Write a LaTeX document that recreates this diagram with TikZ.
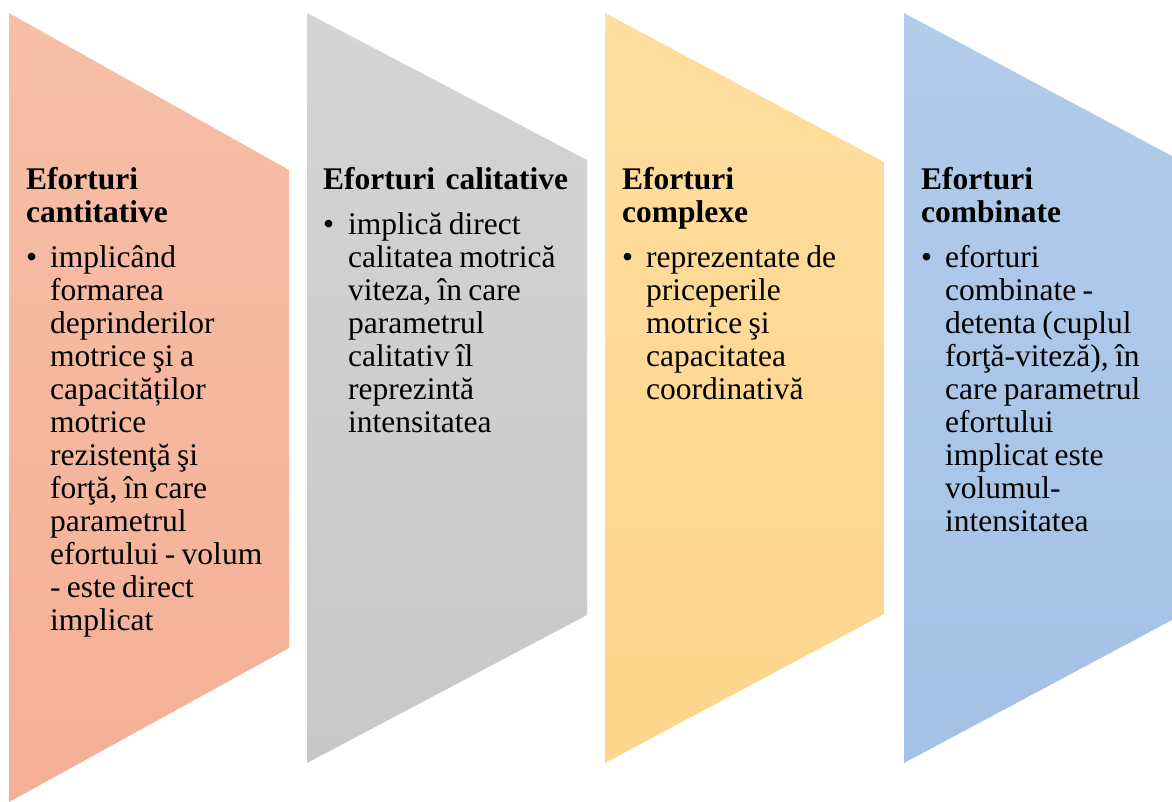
\documentclass[tikz,border=0pt]{standalone}
\usepackage{fontspec}
\setmainfont{Liberation Serif}
\definecolor{orA}{RGB}{246,191,166}
\definecolor{orB}{RGB}{244,176,150}
\definecolor{grA}{RGB}{212,212,212}
\definecolor{grB}{RGB}{200,200,200}
\definecolor{yeA}{RGB}{254,221,157}
\definecolor{yeB}{RGB}{253,213,140}
\definecolor{blA}{RGB}{178,204,233}
\definecolor{blB}{RGB}{164,193,230}
\newcommand\tightsp{\spaceskip=0.2em plus 0.05em minus 0.02em\relax}
\begin{document}
\begin{tikzpicture}[x=1pt,y=-1pt,
  txt/.style={inner sep=0pt, anchor=base west, font=\fontsize{31.5}{33}\selectfont, align=left, text width=260pt, execute at begin node=\tightsp},
  ttl/.style={inner sep=0pt, anchor=base west, font=\fontsize{31.5}{33}\selectfont\bfseries, align=left, text width=290pt},
  bul/.style={inner sep=0pt, anchor=base west, font=\fontsize{31.5}{33}\selectfont}]
\useasboundingbox (0,0) rectangle (1172,801);
% chevron shapes
\path[top color=orA, bottom color=orB] (9,13) -- (289,170) -- (289,648) -- (9,802) -- cycle;
\path[top color=grA, bottom color=grB] (307,13) -- (587,160) -- (587,615) -- (307,763) -- cycle;
\path[top color=yeA, bottom color=yeB] (605,13) -- (884,162) -- (884,614) -- (605,763) -- cycle;
\path[top color=blA, bottom color=blB] (904,13) -- (1172,156) -- (1172,620) -- (904,763) -- cycle;
% column 1
\node[ttl] (t1) at (26,189) {Eforturi\\cantitative};
\node[bul] (b1) at (26,267) {•};
\node[txt] (d1) at (50,267) {implicând\\formarea\\deprinderilor\\motrice şi a\\capacităților\\motrice\\rezistenţă şi\\forţă, în care\\parametrul\\efortului - volum\\- este direct\\implicat};
% column 2
\node[ttl] (t2) at (323,189) {Eforturi calitative};
\node[bul] (b2) at (323,234) {•};
\node[txt] (d2) at (348,234) {implică direct\\calitatea motrică\\viteza, în care\\parametrul\\calitativ îl\\reprezintă\\intensitatea};
% column 3
\node[ttl] (t3) at (622,189) {Eforturi\\complexe};
\node[bul] (b3) at (622,267) {•};
\node[txt] (d3) at (646,267) {reprezentate de\\priceperile\\motrice şi\\capacitatea\\coordinativă};
% column 4
\node[ttl] (t4) at (921,189) {Eforturi\\combinate};
\node[bul] (b4) at (921,267) {•};
\node[txt] (d4) at (945,267) {eforturi\\combinate -\\detenta (cuplul\\forţă-viteză), în\\care parametrul\\efortului\\implicat este\\volumul-\\intensitatea};
\end{tikzpicture}
\end{document}
